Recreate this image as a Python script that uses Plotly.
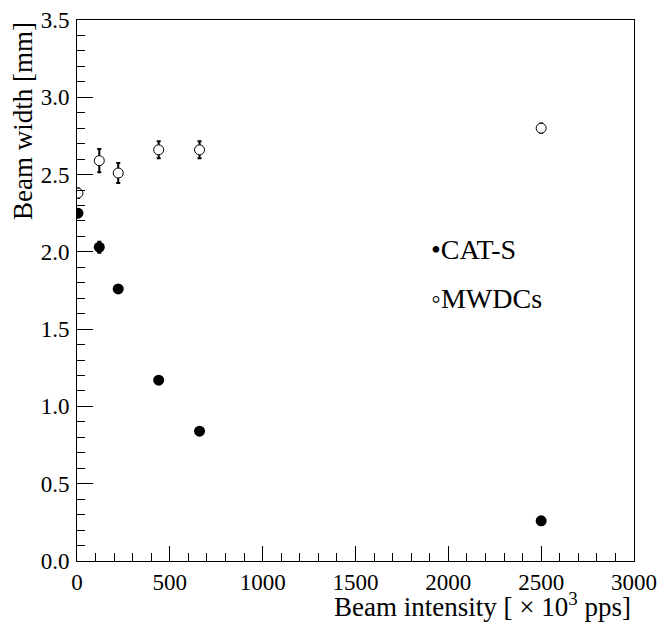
import plotly.graph_objects as go

# Data
intensity = [5, 120, 222, 440, 660, 2500]          # x 10^3 pps
cat_s = [2.25, 2.03, 1.76, 1.17, 0.84, 0.26]       # mm
cat_s_err = [0.02, 0.035, 0.02, 0.02, 0.02, 0.02]
mwdc = [2.38, 2.59, 2.51, 2.66, 2.66, 2.80]        # mm
mwdc_err = [0.03, 0.075, 0.065, 0.055, 0.055, 0.03]

FONT = "Liberation Serif"

fig = go.Figure()
fig.add_trace(go.Scatter(
    x=intensity, y=mwdc, mode="markers", name="MWDCs",
    error_y=dict(type="data", array=mwdc_err, color="black", thickness=2, width=2),
    marker=dict(symbol="circle", size=10, color="white", line=dict(color="black", width=1)),
    showlegend=False))
fig.add_trace(go.Scatter(
    x=intensity, y=cat_s, mode="markers", name="CAT-S",
    error_y=dict(type="data", array=cat_s_err, color="black", thickness=2, width=2),
    marker=dict(symbol="circle", size=11, color="black"),
    showlegend=False))

axis_common = dict(
    showline=True, linecolor="black", linewidth=1, mirror=True,
    showgrid=False, zeroline=False, automargin=False,
    ticks="inside", tickcolor="black", tickwidth=1,
    tickfont=dict(family=FONT, size=23, color="black"),
    ticklabeloverflow="allow",
)
fig.update_xaxes(range=[0, 3000], dtick=500, tick0=0, ticklen=15,
                 minor=dict(ticks="inside", dtick=100, ticklen=8, tickcolor="black", showgrid=False),
                 ticklabelstandoff=0, **axis_common)
fig.update_yaxes(range=[0, 3.5], dtick=0.5, tick0=0, ticklen=16, tickformat=".1f",
                 minor=dict(ticks="inside", dtick=0.1, ticklen=8, tickcolor="black", showgrid=False),
                 ticklabelstandoff=2, **axis_common)

fig.add_annotation(xref="paper", yref="paper", x=1.0, y=0, yshift=-25, xshift=-1,
                   xanchor="right", yanchor="top", showarrow=False,
                   text="Beam intensity [ × 10<sup>3</sup> pps]",
                   font=dict(family=FONT, size=27, color="black"))
fig.add_annotation(xref="paper", yref="paper", x=0, y=1.0, xshift=-54,
                   xanchor="center", yanchor="top", showarrow=False, textangle=-90,
                   text="Beam width [mm]",
                   font=dict(family=FONT, size=27, color="black"))

# legend as text entries
fig.add_annotation(x=1895, y=2.015, xanchor="left", yanchor="middle", showarrow=False,
                   text="•CAT-S",
                   font=dict(family=FONT, size=28, color="black"))
fig.add_annotation(x=1895, y=1.700, xanchor="left", yanchor="middle", showarrow=False,
                   text="◦MWDCs",
                   font=dict(family=FONT, size=28, color="black"))

fig.update_layout(width=661, height=623,
                  margin=dict(l=77, r=27, t=20, b=62, autoexpand=False),
                  plot_bgcolor="white", paper_bgcolor="white")
fig.write_html("out.html")
